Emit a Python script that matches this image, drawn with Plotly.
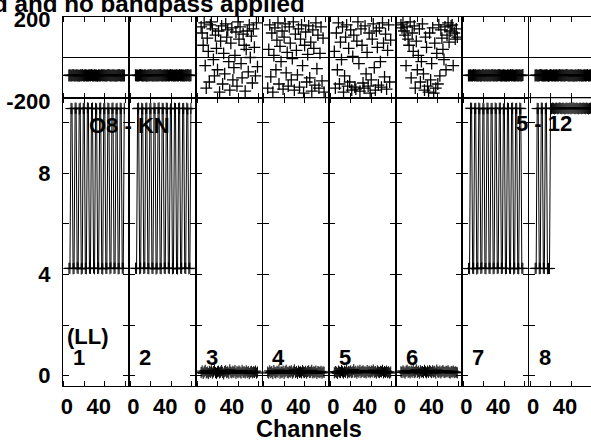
import plotly.graph_objects as go

W, H = 591, 440
FONT = "Liberation Sans, Arial, sans-serif"

CHANNELS = list(range(64))
IF_LABELS = ["1", "2", "3", "4", "5", "6", "7", "8"]

# first channel plotted in each IF
START = [5, 5, 4, 4, 4, 4, 5, 5]

# phase (degrees)
PHASE_IF1 = [-88, -87, -89, -88, -86, -88, -89, -87, -88, -88,
             -90, -87, -88, -86, -89, -88, -87, -88, -89, -88,
             -87, -88, -86, -88, -89, -87, -88, -88, -90, -87,
             -88, -89, -86, -88, -87, -88, -89, -88, -87, -86,
             -88, -89, -88, -87, -88, -88, -90, -87, -88, -86,
             -89, -88, -87, -88, -88]
PHASE_IF2 = [-87, -88, -88, -89, -87, -86, -88, -88, -89, -87,
             -88, -90, -88, -87, -88, -86, -89, -88, -88, -87,
             -89, -88, -87, -88, -86, -88, -89, -88, -87, -88,
             -88, -87, -89, -88, -86, -88, -87, -89, -88, -88,
             -87, -88, -89, -86, -88, -87, -88, -88, -89, -87,
             -88, -86, -88, -89, -87]
PHASE_IF3 = [150, 120, 60, 170, -40, -150, 95, 30, -120, 160,
             175, 140, -10, -90, 110, 45, -60, 130, -170, 80,
             155, -130, 20, -80, 165, 100, 135, -20, -160, 70,
             145, -110, -50, 10, 125, -140, 175, 90, 150, -30,
             -100, 115, 60, -165, 40, 130, -70, 160, 0, 105,
             -125, 140, 50, -90, 170, -45]
PHASE_IF4 = [-150, 40, 160, -95, 120, -170, 10, 145, -60, 85,
             170, -130, 55, -20, 130, -155, 100, 165, -75, 25,
             -140, 150, 70, -110, -5, 175, -160, 115, 35, -85,
             140, -145, 90, 160, -40, -175, 60, 125, -120, 15,
             155, -100, 75, -165, 135, 45, -135, 170, -55, 110,
             -150, 20, 150, -115, 95, -170]
PHASE_IF5 = [30, -150, 120, -60, 170, -130, 75, -10, 150, -170,
             -90, 100, 160, -140, 45, -120, 135, -160, 5, 110,
             -145, -155, 80, 175, -30, -165, 140, 60, -125, -150,
             155, -80, 25, -140, 120, -175, -110, 90, 165, -50,
             -160, 130, 50, -135, 145, -20, -145, 170, 70, -95,
             115, -155, 35, 160, -120, 85]
PHASE_IF6 = [160, 145, 170, 130, 110, -40, 150, 90, 60, 175,
             -100, 120, 30, 155, -150, 80, -60, 10, 140, -120,
             -20, 165, -80, -160, 100, 50, -140, -170, 120, -110,
             -30, 145, -175, 70, -150, 20, -130, 160, -90, 135,
             95, 40, -10, 150, -60, 110, 170, 75, 130, 155,
             160, -40, 120, 90, 140, 100]
PHASE_IF7 = [-88, -88, -87, -89, -88, -86, -88, -87, -89, -88,
             -88, -87, -90, -88, -86, -88, -89, -87, -88, -88,
             -87, -89, -88, -86, -88, -88, -87, -89, -88, -87,
             -86, -88, -89, -88, -87, -88, -88, -90, -87, -88,
             -89, -86, -88, -87, -88, -89, -88, -87, -88, -88,
             -87, -89, -88, -86]
PHASE_IF8 = [-88, -87, -88, -89, -88, -86, -87, -88, -89, -88,
             -88, -87, -88, -90, -88, -86, -88, -89, -87, -88,
             -88, -87, -89, -88, -86, -88, -88, -87, -89, -88,
             -87, -86, -88, -89, -88, -87, -88, -88, -90, -87,
             -88, -89, -86, -88, -87, -88, -89, -88, -87, -88,
             -88, -86, -89, -88, -87, -88, -88, -89, -87]

# amplitude
AMP_IF1 = [4.24, 4.25, 10.57, 10.56, 4.23, 4.24, 10.58, 10.57, 4.26, 4.24,
           10.55, 10.58, 4.22, 4.25, 10.57, 10.56, 4.24, 4.23, 10.59, 10.57,
           4.25, 4.24, 10.56, 10.58, 4.26, 4.23, 10.57, 10.55, 4.24, 4.25,
           10.57, 10.58, 4.24, 4.22, 10.56, 10.57, 4.25, 4.24, 10.58, 10.56,
           4.23, 4.26, 10.57, 10.58, 4.24, 4.25, 10.55, 10.57, 4.23, 4.24,
           10.58, 10.56, 4.25, 4.24, 10.57]
AMP_IF2 = [4.25, 4.24, 10.56, 10.58, 4.23, 4.25, 10.57, 10.55, 4.24, 4.26,
           10.57, 10.58, 4.24, 4.23, 10.56, 10.57, 4.25, 4.24, 10.58, 10.56,
           4.22, 4.25, 10.57, 10.59, 4.24, 4.23, 10.57, 10.56, 4.25, 4.24,
           10.58, 10.57, 4.26, 4.24, 10.55, 10.57, 4.23, 4.25, 10.58, 10.56,
           4.24, 4.22, 10.57, 10.58, 4.25, 4.24, 10.56, 10.57, 4.26, 4.24,
           10.58, 10.55, 4.23, 4.25, 10.57]
AMP_IF3 = [0.12, 0.18, 0.09, 0.15, 0.21, 0.11, 0.14, 0.08, 0.17, 0.13,
           0.19, 0.10, 0.16, 0.22, 0.12, 0.09, 0.15, 0.18, 0.11, 0.14,
           0.20, 0.13, 0.07, 0.16, 0.19, 0.12, 0.15, 0.10, 0.23, 0.14,
           0.11, 0.17, 0.13, 0.20, 0.09, 0.16, 0.12, 0.18, 0.14, 0.10,
           0.21, 0.13, 0.15, 0.11, 0.19, 0.12, 0.16, 0.08, 0.14, 0.17,
           0.11, 0.15, 0.13, 0.18, 0.10, 0.14]
AMP_IF4 = [0.14, 0.10, 0.19, 0.12, 0.16, 0.08, 0.20, 0.13, 0.11, 0.17,
           0.14, 0.22, 0.10, 0.15, 0.12, 0.18, 0.09, 0.16, 0.21, 0.13,
           0.11, 0.17, 0.14, 0.19, 0.10, 0.15, 0.23, 0.12, 0.16, 0.09,
           0.18, 0.13, 0.15, 0.11, 0.20, 0.14, 0.12, 0.17, 0.10, 0.16,
           0.19, 0.12, 0.14, 0.21, 0.11, 0.15, 0.13, 0.18, 0.09, 0.16,
           0.14, 0.12, 0.17, 0.10, 0.15, 0.13]
AMP_IF5 = [0.11, 0.16, 0.13, 0.09, 0.18, 0.14, 0.12, 0.20, 0.15, 0.10,
           0.17, 0.13, 0.22, 0.11, 0.16, 0.14, 0.19, 0.12, 0.15, 0.24,
           0.13, 0.17, 0.10, 0.18, 0.14, 0.21, 0.12, 0.16, 0.19, 0.13,
           0.15, 0.11, 0.20, 0.14, 0.17, 0.12, 0.18, 0.15, 0.22, 0.13,
           0.16, 0.10, 0.19, 0.14, 0.12, 0.17, 0.15, 0.21, 0.11, 0.16,
           0.13, 0.18, 0.12, 0.15, 0.10, 0.14]
AMP_IF6 = [0.15, 0.12, 0.19, 0.14, 0.10, 0.17, 0.21, 0.13, 0.16, 0.11,
           0.18, 0.14, 0.20, 0.12, 0.15, 0.23, 0.13, 0.17, 0.10, 0.19,
           0.14, 0.16, 0.12, 0.21, 0.15, 0.11, 0.18, 0.13, 0.20, 0.16,
           0.12, 0.19, 0.14, 0.17, 0.10, 0.22, 0.15, 0.13, 0.18, 0.11,
           0.16, 0.20, 0.14, 0.12, 0.17, 0.15, 0.19, 0.13, 0.10, 0.16,
           0.14, 0.18, 0.12, 0.15, 0.13, 0.11]
AMP_IF7 = [4.24, 4.23, 10.58, 10.57, 4.25, 4.24, 10.56, 10.57, 4.22, 4.25,
           10.58, 10.56, 4.24, 4.26, 10.57, 10.55, 4.24, 4.23, 10.58, 10.57,
           4.25, 4.24, 10.56, 10.57, 4.23, 4.25, 10.58, 10.56, 4.24, 4.26,
           10.57, 10.58, 4.24, 4.25, 10.55, 10.57, 4.23, 4.24, 10.58, 10.56,
           4.25, 4.24, 10.57, 10.58, 4.22, 4.25, 10.56, 10.57, 4.24, 4.23,
           10.58, 10.56, 4.25, 4.24]
AMP_IF8 = [4.24, 4.25, 10.57, 10.56, 4.23, 4.24, 10.58, 10.57, 4.25, 4.24,
           10.56, 10.58, 4.23, 4.24, 4.24, 10.57, 10.56, 10.58, 10.57, 10.55,
           10.57, 10.58, 10.56, 10.57, 10.59, 10.57, 10.56, 10.58, 10.57, 10.55,
           10.57, 10.58, 10.56, 10.57, 10.58, 10.56, 10.57, 10.59, 10.57, 10.56,
           10.58, 10.57, 10.55, 10.57, 10.58, 10.56, 10.57, 10.58, 10.57, 10.56,
           10.58, 10.57, 10.55, 10.57, 10.58, 10.56, 10.57, 10.58, 10.57]

PHASES = [PHASE_IF1, PHASE_IF2, PHASE_IF3, PHASE_IF4,
          PHASE_IF5, PHASE_IF6, PHASE_IF7, PHASE_IF8]
AMPS = [AMP_IF1, AMP_IF2, AMP_IF3, AMP_IF4,
        AMP_IF5, AMP_IF6, AMP_IF7, AMP_IF8]

# --- layout in pixels ---
PANEL_LEFT = 62.8
PANEL_W = 66.6
PH_TOP, PH_BOT = 16.7, 98.3
AMP_BOT = 386.0
X_RANGE = [-1.0, 64.0]


def fx(px):
    return px / W


def fy(py):
    return 1 - py / H


def axis_key(kind, n):
    return f"{kind}axis" if n == 1 else f"{kind}axis{n}"


def ref(kind, n):
    return kind if n == 1 else f"{kind}{n}"


cross = dict(symbol="cross-thin", size=8, color="black",
             line=dict(width=1, color="black"))
cross_phase = dict(symbol="cross-thin", size=8.5, color="black",
                   line=dict(width=1.3, color="black"))

fig = go.Figure()
layout = {}

for k in range(8):
    top_n, bot_n = k + 1, k + 9
    x0 = PANEL_LEFT + PANEL_W * k
    x1 = min(x0 + PANEL_W, W)
    last = x1 >= W
    xr = [X_RANGE[0], X_RANGE[0] + (x1 - x0) / PANEL_W * (X_RANGE[1] - X_RANGE[0])]

    ph = PHASES[k]
    amp = AMPS[k]
    xs_ph = CHANNELS[START[k]:START[k] + len(ph)]
    xs_amp = CHANNELS[START[k]:START[k] + len(amp)]

    fig.add_trace(go.Scatter(x=xs_ph, y=ph, mode="markers", marker=cross_phase,
                             xaxis=ref("x", top_n), yaxis=ref("y", top_n),
                             showlegend=False, hoverinfo="skip"))
    fig.add_trace(go.Scatter(x=xs_amp, y=amp, mode="lines+markers", marker=cross,
                             line=dict(color="black", width=1),
                             xaxis=ref("x", bot_n), yaxis=ref("y", bot_n),
                             showlegend=False, hoverinfo="skip"))

    common_x = dict(range=xr, showgrid=False, zeroline=False, showline=True,
                    linecolor="black", linewidth=1, mirror="allticks",
                    ticks="inside", ticklen=5, tickcolor="black", automargin=False,
                    tickvals=[0, 20, 40, 60], domain=[fx(x0), fx(x1)])
    layout[axis_key("x", top_n)] = dict(common_x, anchor=ref("y", top_n),
                                        showticklabels=False)
    layout[axis_key("x", bot_n)] = dict(
        common_x, anchor=ref("y", bot_n), showticklabels=True,
        ticktext=["\u00a00", "", "40\u00a0\u00a0", ""],
        tickfont=dict(family=FONT, size=22, color="black", weight="bold"),
        ticklabelstandoff=1)

    common_y = dict(showgrid=False, showline=True, linecolor="black", linewidth=1,
                    mirror=False if last else "allticks", ticks="inside",
                    ticklen=6, tickcolor="black", automargin=False,
                    showticklabels=(k == 0),
                    tickfont=dict(family=FONT, size=22, color="black", weight="bold"),
                    ticklabelstandoff=7)
    layout[axis_key("y", top_n)] = dict(
        common_y, anchor=ref("x", top_n), range=[-200, 200],
        tickvals=[-200, 200], ticktext=["-200", "200"], ticklabelshift=3,
        zeroline=True, zerolinecolor="black", zerolinewidth=1,
        domain=[fy(PH_BOT), fy(PH_TOP)])
    layout[axis_key("y", bot_n)] = dict(
        common_y, anchor=ref("x", bot_n), range=[-0.41, 10.97],
        tickvals=[0, 2, 4, 6, 8, 10], ticktext=["0", "", "4", "", "8", ""],
        zeroline=False, domain=[fy(AMP_BOT), fy(PH_BOT)])

annotations = []


def label(text, px, py, size=22, xanchor="center"):
    annotations.append(dict(text=text, x=fx(px), y=fy(py), xref="paper", yref="paper",
                            xanchor=xanchor, yanchor="middle", showarrow=False,
                            font=dict(family=FONT, size=size, color="black",
                                      weight="bold")))


label("d and no bandpass applied", 307, 3, size=24.2, xanchor="right")
label("Channels", 308.8, 429, size=23.5)
label("O8 - KN", 129.5, 125)
label("5 - 12", 544, 124)
label("(LL)", 87.5, 336)
for k, t in enumerate(IF_LABELS):
    label(t, PANEL_LEFT + PANEL_W * k + 15.7, 357)

fig.update_layout(**layout)
fig.update_layout(width=W, height=H, autosize=False,
                  margin=dict(l=0, r=0, t=0, b=0),
                  paper_bgcolor="white", plot_bgcolor="white",
                  annotations=annotations, showlegend=False)

# drop the browser's default page margin so the figure sits at the window corner
fig.write_html("out.html", config={"displayModeBar": False},
               post_script="document.body.style.margin = '0';")
